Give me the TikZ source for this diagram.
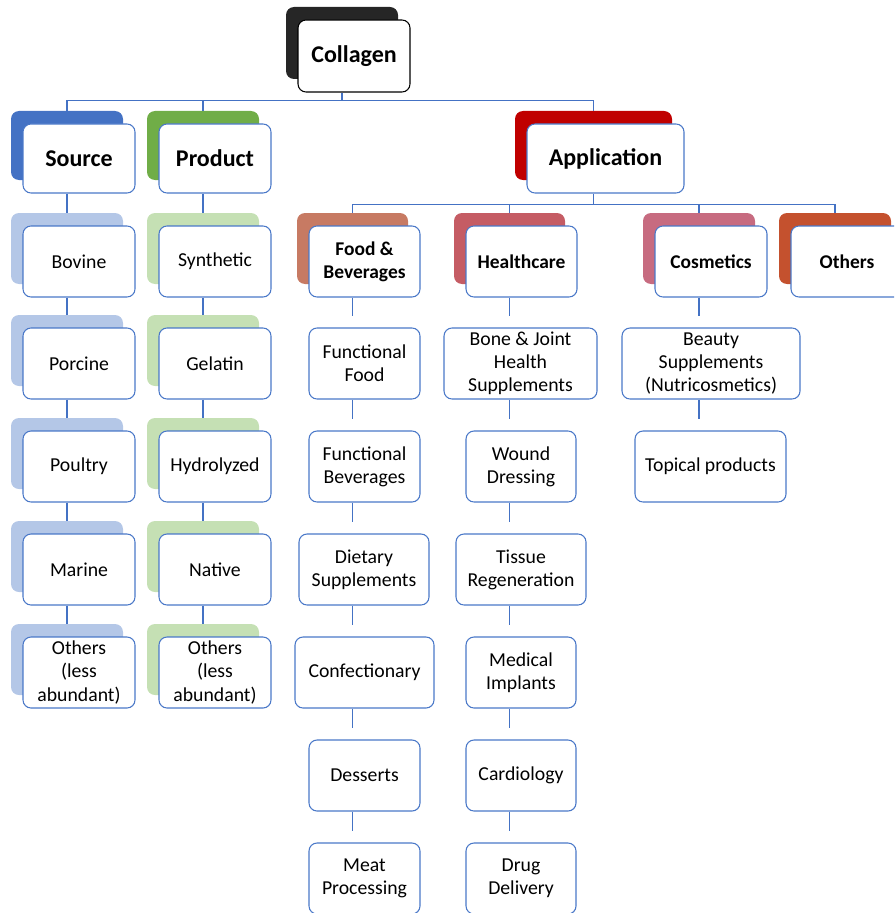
\documentclass[tikz,border=0pt]{standalone}
\usepackage{fontspec}
\setmainfont{Carlito}
\usetikzlibrary{calc}
\definecolor{colB}{HTML}{262626}
\definecolor{srcB}{HTML}{4472C4}
\definecolor{prodB}{HTML}{70AD47}
\definecolor{appB}{HTML}{C00000}
\definecolor{foodB}{HTML}{C77A63}
\definecolor{healthB}{HTML}{C55C64}
\definecolor{cosB}{HTML}{C76B80}
\definecolor{othB}{HTML}{C4512E}
\definecolor{srcL}{HTML}{B4C7E7}
\definecolor{prodL}{HTML}{C5E0B4}
\definecolor{bord}{HTML}{4A78C8}
\definecolor{connC}{HTML}{4472C4}
\newcommand\hfont{\fontsize{18}{21}\selectfont\bfseries}
\newcommand\mfont{\fontsize{14.6}{17.3}\selectfont\bfseries}
\newcommand\lfont{\fontsize{14.8}{17.3}\selectfont}
% name, L, T, R, B, back colour, text, extra style
\newcommand\stackbox[8]{%
  \node[backbox, fill=#6, minimum width={(#4-#2)*0.75pt}, minimum height={(#5-#3)*0.75pt}]
    (#1b) at ({(#2+#4)/2-12},{(#3+#5)/2-13}) {};
  \node[frontbox, #8, minimum width={(#4-#2)*0.75pt}, minimum height={(#5-#3)*0.75pt}]
    (#1) at ({(#2+#4)/2},{(#3+#5)/2}) {#7};}
\newcommand\leafbox[6]{%
  \node[frontbox, minimum width={(#4-#2)*0.75pt}, minimum height={(#5-#3)*0.75pt}]
    (#1) at ({(#2+#4)/2},{(#3+#5)/2}) {#6};}
\newcommand\vlink[3]{\draw[conn] (#1.south -| #3) -- ($(#2.north -| #3)+(0,-11)$);}
\begin{document}
\begin{tikzpicture}[x=0.75pt,y=-0.75pt,
  frontbox/.style={draw=bord, fill=white, rounded corners=6pt, line width=0.8pt,
    inner sep=0pt, align=center, font=\lfont, text=black},
  backbox/.style={draw=none, rounded corners=6pt, inner sep=0pt},
  conn/.style={draw=connC, line width=0.9pt}]
\useasboundingbox (0,0) rectangle (894,913);
\clip (0,0) rectangle (894,913);

% top level
\stackbox{col}{298}{20}{410}{92}{colB}{Collagen}{font=\hfont, draw=black}
\stackbox{src}{23}{124}{135}{193}{srcB}{Source}{font=\hfont}
\stackbox{prod}{159}{124}{271}{193}{prodB}{Product}{font=\hfont}
\stackbox{app}{527}{124}{684}{193}{appB}{Application}{font=\hfont}

% application level
\stackbox{food}{309}{226}{420}{297}{foodB}{Food \&\\Beverages}{font=\mfont}
\stackbox{health}{466}{226}{577}{297}{healthB}{Healthcare}{font=\mfont}
\stackbox{cos}{655}{226}{767}{297}{cosB}{Cosmetics}{font=\mfont}
\stackbox{oth}{791}{226}{903}{297}{othB}{Others}{font=\mfont}

% source column
\stackbox{bov}{23}{226}{135}{297}{srcL}{Bovine}{}
\stackbox{por}{23}{328}{135}{399}{srcL}{Porcine}{}
\stackbox{pou}{23}{431}{135}{502}{srcL}{Poultry}{}
\stackbox{mar}{23}{534}{135}{605}{srcL}{Marine}{}
\stackbox{soth}{23}{637}{135}{708}{srcL}{Others\\(less\\abundant)}{}

% product column
\stackbox{syn}{159}{226}{271}{297}{prodL}{Synthetic}{}
\stackbox{gel}{159}{328}{271}{399}{prodL}{Gelatin}{}
\stackbox{hyd}{159}{431}{271}{502}{prodL}{Hydrolyzed}{}
\stackbox{nat}{159}{534}{271}{605}{prodL}{Native}{}
\stackbox{poth}{159}{637}{271}{708}{prodL}{Others\\(less\\abundant)}{}

% food column
\leafbox{ff}{309}{328}{420}{399}{Functional\\Food}
\leafbox{fbev}{309}{431}{420}{502}{Functional\\Beverages}
\leafbox{diet}{299}{534}{429}{605}{Dietary\\Supplements}
\leafbox{conf}{295}{637}{434}{708}{Confectionary}
\leafbox{des}{309}{740}{420}{811}{Desserts}
\leafbox{meat}{309}{843}{420}{914}{Meat\\Processing}

% healthcare column
\leafbox{bone}{444}{328}{597}{399}{Bone \& Joint\\Health\\Supplements}
\leafbox{wound}{466}{431}{576}{502}{Wound\\Dressing}
\leafbox{tis}{456}{534}{586}{605}{Tissue\\Regeneration}
\leafbox{med}{466}{637}{576}{708}{Medical\\Implants}
\leafbox{card}{466}{740}{576}{811}{Cardiology}
\leafbox{drug}{466}{843}{576}{914}{Drug\\Delivery}

% cosmetics column
\leafbox{beau}{622}{328}{800}{399}{Beauty\\Supplements\\(Nutricosmetics)}
\leafbox{top}{635}{431}{786}{502}{Topical products}

% connectors: collagen bus
\path (col.south -| colb) ++(0,8) coordinate (bus1);
\draw[conn] (col.south -| colb) -- (bus1);
\draw[conn] (srcb.north) |- (bus1) -| (appb.north);
\draw[conn] (prodb.north) -- (prodb.north |- bus1);

% application bus
\path (app.south -| appb) ++(0,11) coordinate (bus2);
\draw[conn] (app.south -| appb) -- (bus2);
\draw[conn] (foodb.north) |- (bus2) -| (othb.north);
\draw[conn] (healthb.north) -- (healthb.north |- bus2);
\draw[conn] (cosb.north) -- (cosb.north |- bus2);

% source & product chains
\draw[conn] (src.south -| srcb) -- (bovb.north);
\draw[conn] (bov.south -| bovb) -- (porb.north);
\draw[conn] (por.south -| porb) -- (poub.north);
\draw[conn] (pou.south -| poub) -- (marb.north);
\draw[conn] (mar.south -| marb) -- (sothb.north);
\draw[conn] (prod.south -| prodb) -- (synb.north);
\draw[conn] (syn.south -| synb) -- (gelb.north);
\draw[conn] (gel.south -| gelb) -- (hydb.north);
\draw[conn] (hyd.south -| hydb) -- (natb.north);
\draw[conn] (nat.south -| natb) -- (pothb.north);

% food chain
\vlink{food}{ff}{foodb}
\vlink{ff}{fbev}{foodb}
\vlink{fbev}{diet}{foodb}
\vlink{diet}{conf}{foodb}
\vlink{conf}{des}{foodb}
\vlink{des}{meat}{foodb}

% healthcare chain
\vlink{health}{bone}{healthb}
\vlink{bone}{wound}{healthb}
\vlink{wound}{tis}{healthb}
\vlink{tis}{med}{healthb}
\vlink{med}{card}{healthb}
\vlink{card}{drug}{healthb}

% cosmetics chain
\vlink{cos}{beau}{cosb}
\vlink{beau}{top}{cosb}
\end{tikzpicture}
\end{document}
